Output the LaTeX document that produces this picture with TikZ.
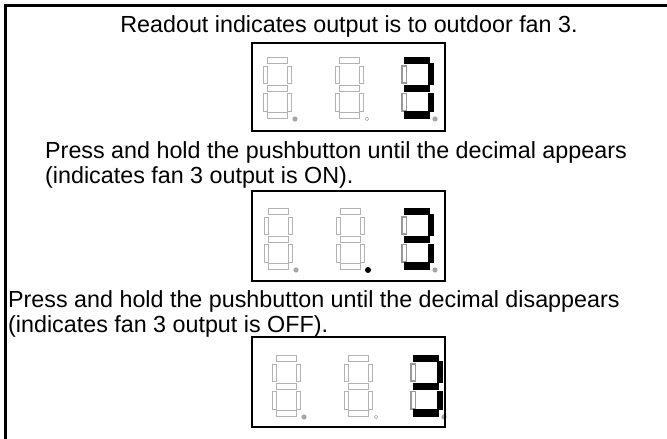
\documentclass[tikz,border=0pt]{standalone}
\usepackage{fontspec}
\setmainfont{Liberation Sans}
\tikzset{
  frame-line/.style={draw,black,line width=2.5pt},
  panel/.style={draw,black,line width=2pt},
  seg-off/.style={draw=black!30,line width=1pt},
  seg-dim/.style={draw=black!40,line width=1.3pt},
  seg-on/.style={fill=black,draw=black,line width=0.6pt},
  dot-off/.style={fill=black!35,radius=2.6pt},
  dot-ring/.style={draw=black!35,line width=0.6pt,radius=1.7pt},
  dot-on/.style={fill=black,radius=3pt},
  caption/.style={font=\fontsize{23.3}{25}\selectfont,inner sep=0pt},
}
% one unlit digit: origin (top left), style of its decimal
\newcommand{\segoff}[2]{%
  \begin{scope}[shift={#1}]
    \draw[seg-off] (4,0) rectangle (24,6);
    \draw[seg-off] (0,9) rectangle (4,26);
    \draw[seg-off] (24,9) rectangle (28.5,26);
    \draw[seg-off] (4,28.5) rectangle (24,34);
    \draw[seg-off] (0,36.5) rectangle (4,54);
    \draw[seg-off] (24,36.5) rectangle (28.5,54);
    \draw[seg-off] (4,55.5) rectangle (24,61);
    \path[#2] (32,62) circle;
  \end{scope}}
% the lit digit 3
\newcommand{\segthree}[2]{%
  \begin{scope}[shift={#1}]
    \draw[seg-dim] (0,9) rectangle (4.5,26);
    \draw[seg-dim] (0,36.5) rectangle (4.5,54);
    \draw[seg-on] (2.5,0.5) rectangle (27.5,6.5);
    \draw[seg-on] (26.5,6.5) rectangle (31.5,27);
    \draw[seg-on] (2.5,28.5) rectangle (27.5,34.5);
    \draw[seg-on] (26.5,36) rectangle (31.5,54.5);
    \draw[seg-on] (2.5,54.5) rectangle (27.5,61.5);
    \path[#2] (33,62) circle;
  \end{scope}}
\begin{document}
\begin{tikzpicture}[x=1pt,y=-1pt]

  \useasboundingbox (0,0) rectangle (667,439);
  \clip (0,0) rectangle (667,439);
  \draw[frame-line] (5.3,5.3) rectangle (700,470);

  % readout
  \node[caption,anchor=base] (l-readout) at (349,32) {Readout indicates output is to outdoor fan 3.};
  \segoff{(263,57)}{dot-off}
  \segoff{(335,57)}{dot-ring}
  \segthree{(402,57)}{dot-off}
  \draw[panel] (252,43) rectangle (445,131);

  % decimal on
  \node[caption,anchor=base west] (l-on-a) at (45,158) {Press and hold the pushbutton until the decimal appears};
  \node[caption,anchor=base west] (l-on-b) at (45,183) {(indicates fan 3 output is ON).};
  \segoff{(264,208)}{dot-off}
  \segoff{(336,208)}{dot-on}
  \segthree{(402,208)}{dot-off}
  \draw[panel] (252,191) rectangle (445,281);

  % decimal off
  \node[caption,anchor=base west] (l-off-a) at (8,307) {Press and hold the pushbutton until the decimal disappears};
  \node[caption,anchor=base west] (l-off-b) at (8,332) {(indicates fan 3 output is OFF).};
  \segoff{(272,355)}{dot-off}
  \segoff{(344,355)}{dot-ring}
  \segthree{(411,355)}{dot-off}
  \draw[panel] (252,337) rectangle (445,427);

\end{tikzpicture}
\end{document}
